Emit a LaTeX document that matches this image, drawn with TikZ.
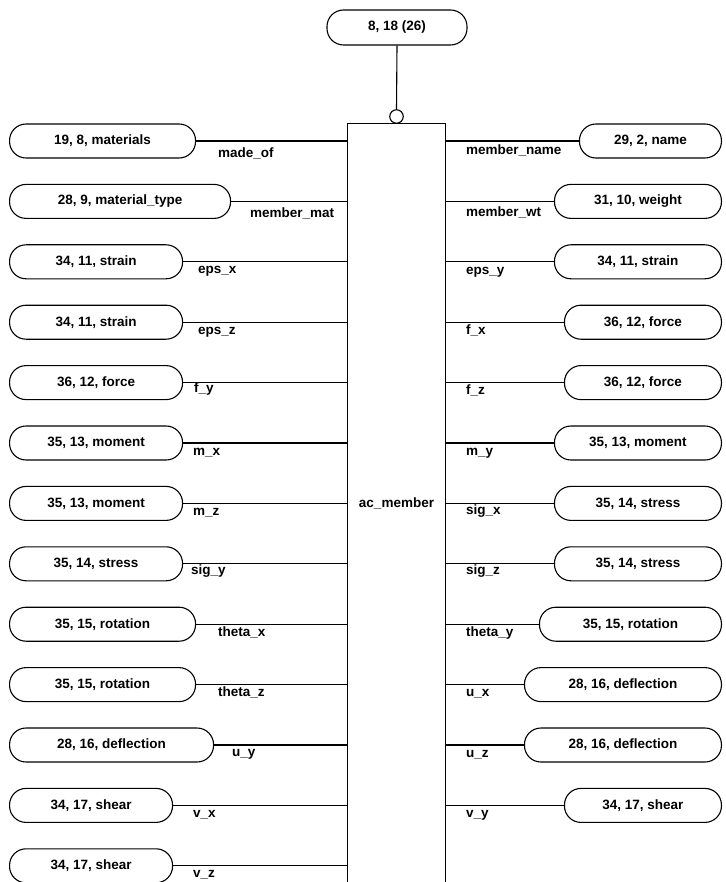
\documentclass[tikz,border=0pt]{standalone}
\usepackage{fontspec}
\setmainfont{Liberation Sans}
\begin{document}
\begin{tikzpicture}[x=1pt,y=-1pt,
  every node/.style={font=\fontsize{13.5}{15}\selectfont\bfseries},
  attr/.style={draw, line width=1.1pt, rounded corners=16.5pt, minimum height=34pt, inner sep=0pt},
  lbl/.style={inner sep=0pt},
  conn/.style={line width=1.1pt}]
\useasboundingbox (0,0) rectangle (725,882);
% central entity
\node[minimum width=97pt, minimum height=758pt, inner sep=0pt] (ac) at (396.5,503) {ac\_member};
\draw[conn] (ac.south west) -- (ac.north west) -- (ac.north east) -- (ac.south east);
% top node
\node[attr, minimum width=140pt, minimum height=35pt] (top) at (397,27.5) {8, 18 (26)};
\node[draw, circle, line width=1.1pt, minimum size=13.5pt, inner sep=0pt, anchor=south] (ring) at (ac.north) {};
\draw[conn] (top.south) -- (ring.north);
% left attributes
\foreach \i/\r/\t/\l/\lx/\o in {
  0/195/{19, 8, materials}/made\_of/218/17,
  1/230/{28, 9, material\_type}/member\_mat/250/16,
  2/182/{34, 11, strain}/eps\_x/198/12,
  3/182/{34, 11, strain}/eps\_z/198/12,
  4/182/{36, 12, force}/f\_y/194/10,
  5/182/{35, 13, moment}/m\_x/193/12,
  6/182/{35, 13, moment}/m\_z/193/12,
  7/182/{35, 14, stress}/sig\_y/191/11,
  8/195/{35, 15, rotation}/theta\_x/218/12,
  9/195/{35, 15, rotation}/theta\_z/218/12,
  10/213/{28, 16, deflection}/u\_y/232/11,
  11/172/{34, 17, shear}/v\_x/193/12,
  12/172/{34, 17, shear}/v\_z/193/12}{
  \pgfmathsetmacro{\yy}{141+60.4*\i}
  \pgfmathsetmacro{\ww}{\r-9}
  \node[attr, minimum width=\ww pt, anchor=west] (L\i) at (9,\yy) {\t};
  \draw[conn] (L\i.east) -- (L\i.east -| ac.west);
  \node[lbl, anchor=base west] (LL\i) at (\lx,\yy+\o) {\l};
}
% right attributes
\foreach \i/\lft/\t/\l/\o in {
  0/580/{29, 2, name}/member\_name/14,
  1/555/{31, 10, weight}/member\_wt/15,
  2/555/{34, 11, strain}/eps\_y/13,
  3/565/{36, 12, force}/f\_x/12,
  4/565/{36, 12, force}/f\_z/12,
  5/555/{35, 13, moment}/m\_y/12,
  6/555/{35, 14, stress}/sig\_x/11,
  7/555/{35, 14, stress}/sig\_z/11,
  8/540/{35, 15, rotation}/theta\_y/12,
  9/525/{28, 16, deflection}/u\_x/12,
  10/525/{28, 16, deflection}/u\_z/12,
  11/565/{34, 17, shear}/v\_y/12}{
  \pgfmathsetmacro{\yy}{141+60.4*\i}
  \pgfmathsetmacro{\ww}{722-\lft}
  \node[attr, minimum width=\ww pt, anchor=east] (R\i) at (722,\yy) {\t};
  \draw[conn] (R\i.west) -- (R\i.west -| ac.east);
  \node[lbl, anchor=base west] (RL\i) at (466,\yy+\o) {\l};
}
\end{tikzpicture}
\end{document}
